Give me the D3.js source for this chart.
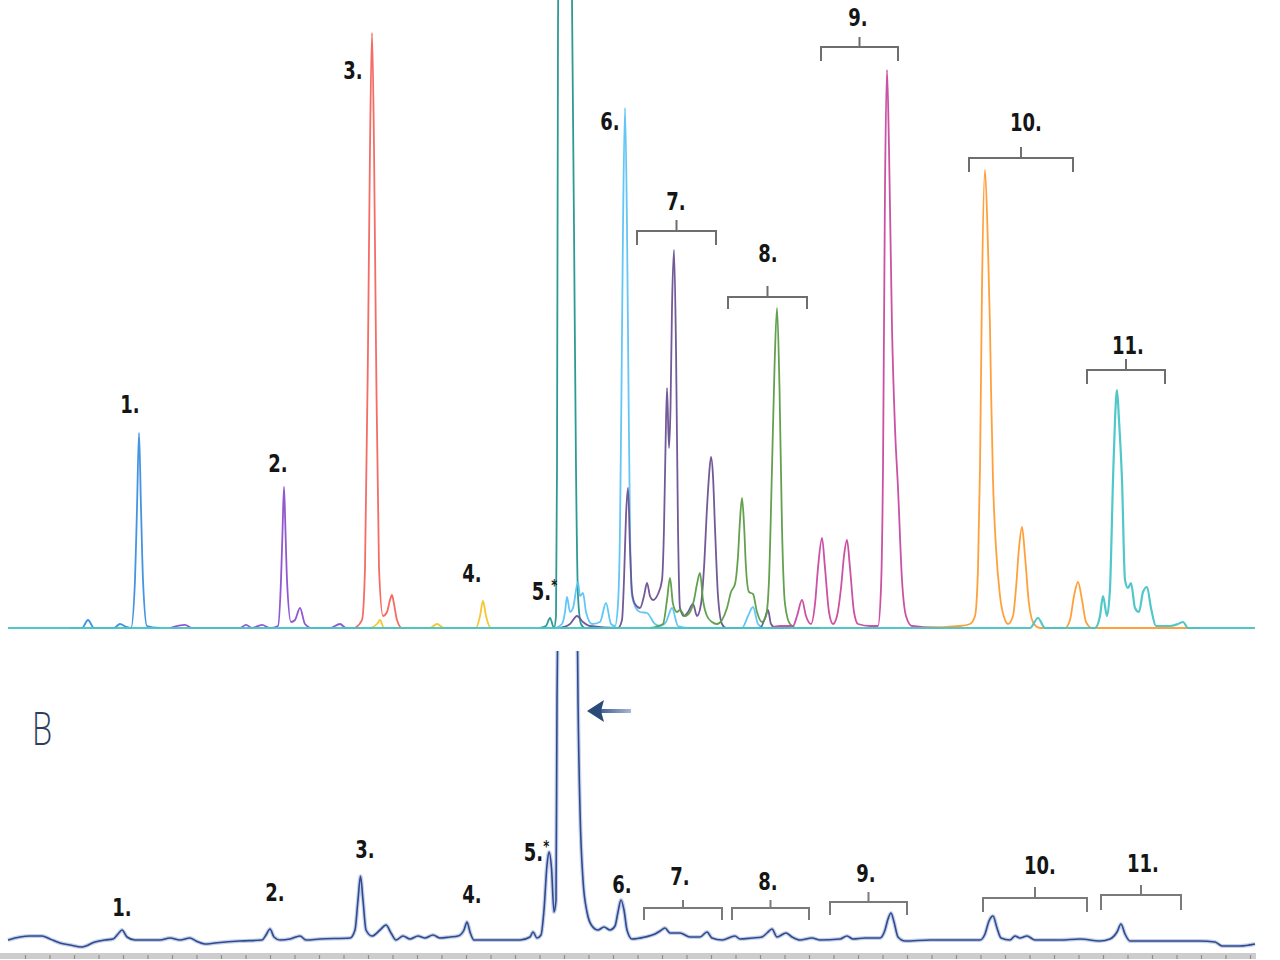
<!DOCTYPE html>
<html>
<head>
<meta charset="utf-8">
<script src="https://cdn.jsdelivr.net/npm/d3@7"></script>
<style>
html,body{margin:0;padding:0;background:#fff;}
svg{display:block;}
</style>
</head>
<body>
<svg id="chart" width="1280" height="960"></svg>
<script>
// ---------- DATA (time in min, intensity in arbitrary units) ----------
// Panel A: extracted ion chromatograms
const trace1 = [[1.40,0],[1.64,0],[1.76,2],[1.88,0],[2.28,0],[2.40,1],[2.52,0.3],[2.62,0],[2.70,12],[2.74,30],[2.78,48.75],[2.82,30],[2.86,12],[2.94,0.5],[3.20,0]];
const trace2 = [[3.40,0],[3.70,0.8],[3.84,0],[4.80,0],[4.92,0.8],[5.04,0],[5.24,0.8],[5.40,0],[5.56,0.5],[5.62,12],[5.65,24],[5.68,35.25],[5.71,24],[5.74,12],[5.82,1.5],[5.90,2],[6.00,5],[6.10,1],[6.24,0],[6.60,0],[6.80,1],[6.92,0],[7.20,0]];
const trace3 = [[7.10,0],[7.24,2],[7.30,15],[7.36,70],[7.40,120],[7.44,148.75],[7.48,120],[7.52,70],[7.58,15],[7.66,3],[7.74,4],[7.80,7],[7.84,8.25],[7.88,6],[7.94,2],[8.04,0],[8.30,0]];
const trace4 = [[7.40,0],[7.54,1],[7.60,2],[7.68,0],[8.60,0],[8.74,1],[8.88,0],[9.52,0],[9.60,3],[9.66,6.75],[9.72,3],[9.82,0],[10.40,0]];
const trace5 = [[10.80,0],[10.92,0.5],[11.00,2.5],[11.08,0],[11.12,3],[11.14,40],[11.16,150],[11.20,230],[11.30,260],[11.40,210],[11.44,157],[11.48,100],[11.52,40],[11.56,8],[11.62,1],[11.70,0],[12.40,0]];
const trace6 = [[11.10,0],[11.24,1],[11.30,4],[11.34,7.75],[11.40,4],[11.46,5],[11.56,11.5],[11.60,8],[11.66,8.75],[11.72,4],[11.84,1],[12.00,1.5],[12.12,6.25],[12.22,1],[12.30,0.5],[12.36,6],[12.40,25],[12.43,60],[12.46,100],[12.50,130],[12.54,100],[12.57,60],[12.60,25],[12.64,8],[12.72,5],[12.80,4],[12.94,3.75],[13.10,1],[13.20,0.5],[13.32,1.5],[13.44,5],[13.56,0.5],[13.80,0],[14.84,0],[14.96,3],[15.06,5.25],[15.16,1],[15.28,0],[15.80,0]];
const trace7 = [[11.20,0],[11.40,1],[11.54,3],[11.66,1.5],[11.80,0.5],[12.36,0],[12.44,2],[12.48,12],[12.52,28],[12.56,35],[12.60,20],[12.64,9],[12.70,6],[12.80,5],[12.88,8],[12.94,11.25],[13.00,8],[13.06,7],[13.16,8.5],[13.24,12],[13.28,25],[13.31,45],[13.34,60],[13.38,45],[13.41,55],[13.44,80],[13.48,94.5],[13.52,70],[13.56,25],[13.60,5],[13.68,3],[13.76,4],[13.86,6],[13.94,3],[14.02,6],[14.08,15],[14.14,30],[14.18,38],[14.22,42.75],[14.26,38],[14.30,25],[14.36,8],[14.44,1],[14.52,0],[15.20,0],[15.30,2.5],[15.36,4.5],[15.42,1],[15.52,0],[15.80,0]];
const trace8 = [[13.00,0],[13.26,1],[13.34,7],[13.40,12.5],[13.46,6],[13.54,4],[13.60,4.5],[13.70,3],[13.80,4],[13.88,7],[13.94,11],[14.00,13.75],[14.06,7],[14.14,3],[14.24,1.5],[14.34,1],[14.44,2],[14.54,5],[14.62,9],[14.70,11],[14.76,18],[14.80,27],[14.84,32.5],[14.88,26],[14.92,15],[14.98,9],[15.06,8.5],[15.14,4],[15.24,1.5],[15.32,3],[15.38,12],[15.44,40],[15.49,65],[15.54,80],[15.59,60],[15.64,25],[15.70,6],[15.80,1],[15.94,0],[16.40,0]];
const trace9 = [[15.40,0],[15.60,0.5],[15.86,0.5],[15.94,3],[16.04,7],[16.12,3],[16.22,1],[16.30,6],[16.36,15],[16.44,22.5],[16.50,15],[16.58,4],[16.66,1],[16.74,3],[16.82,10],[16.88,18],[16.94,22],[17.00,15],[17.08,4],[17.16,1],[17.40,0.5],[17.56,0.5],[17.62,10],[17.66,40],[17.70,110],[17.74,139.5],[17.78,120],[17.84,75],[17.90,50],[17.96,35],[18.04,12],[18.12,3],[18.24,0.5],[18.80,0]];
const trace10 = [[18.40,0],[19.20,0.5],[19.40,1],[19.50,3],[19.56,15],[19.60,40],[19.64,85],[19.70,114.5],[19.76,95],[19.80,75],[19.82,60],[19.86,37],[19.92,20],[20.00,8],[20.10,2],[20.16,1],[20.26,3],[20.32,10],[20.38,20],[20.44,25.25],[20.50,18],[20.58,6],[20.68,1],[20.80,0],[21.30,0],[21.40,2],[21.48,8],[21.56,11.5],[21.64,7],[21.72,1.5],[21.84,0],[24.00,0]];
const trace11 = [[0.16,0],[20.60,0],[20.76,2.5],[20.90,0],[21.90,0],[22.00,3],[22.06,8],[22.14,3],[22.20,10],[22.26,37],[22.30,52],[22.34,59.5],[22.38,52],[22.44,37],[22.50,12],[22.56,10],[22.62,11.25],[22.70,5],[22.78,4],[22.86,9],[22.94,10.25],[23.02,5],[23.12,0.5],[23.40,0.5],[23.56,1],[23.66,1.5],[23.76,0],[25.10,0]];

// Panel B: total ion chromatogram
const traceB = [[0.16,-0.5],[0.40,0.25],[0.60,0.5],[0.84,0.5],[1.00,-0.25],[1.20,-1.25],[1.40,-1.75],[1.64,-2.25],[1.90,-1],[2.10,-0.5],[2.26,-0.25],[2.36,1],[2.44,2],[2.54,0.25],[2.70,-0.5],[3.20,-0.5],[3.40,0],[3.60,-0.5],[3.80,0],[3.92,-0.75],[4.10,-1.5],[4.30,-1.25],[4.80,-0.75],[5.24,-0.5],[5.32,0.75],[5.40,2.25],[5.48,0.25],[5.60,-0.5],[5.80,-0.25],[6.00,0.5],[6.12,-0.5],[6.40,-0.25],[7.00,0],[7.10,2],[7.16,9.5],[7.21,15.5],[7.26,9.5],[7.32,2],[7.44,0.5],[7.60,2],[7.72,3.25],[7.82,1.25],[7.92,-0.5],[8.06,0.5],[8.20,-0.25],[8.36,0.5],[8.50,0],[8.66,0.75],[8.80,0],[9.00,0.25],[9.16,0.5],[9.28,2],[9.34,4],[9.40,1.5],[9.48,-0.5],[10.00,-0.5],[10.40,-0.5],[10.60,0.25],[10.66,1.5],[10.74,0],[10.82,0.75],[10.88,7],[10.94,18.25],[10.98,21.5],[11.03,17.5],[11.08,6.5],[11.12,9.5],[11.14,59.5],[11.16,84.5],[11.36,94.5],[11.54,84.5],[11.56,59.5],[11.60,32],[11.66,14.5],[11.74,6.5],[11.84,3],[11.96,2],[12.08,2.75],[12.20,2],[12.30,3],[12.36,6.5],[12.42,9.5],[12.48,7],[12.54,2],[12.64,-0.25],[12.90,0.25],[13.10,1],[13.20,1.75],[13.30,2.5],[13.40,1.25],[13.60,1.25],[13.80,0.25],[14.00,0.25],[14.14,1.5],[14.24,0],[14.44,-0.5],[14.70,0.5],[14.80,-0.25],[15.04,0],[15.24,0.25],[15.34,1.25],[15.44,2.25],[15.54,0.25],[15.72,1.25],[15.84,0.25],[16.00,-0.5],[16.24,0],[16.40,-0.5],[16.80,-0.25],[16.94,0.5],[17.06,-0.25],[17.30,0],[17.60,0],[17.70,2],[17.76,4.75],[17.82,6.25],[17.88,4],[17.96,0.25],[18.10,-0.75],[18.60,-0.5],[19.20,-0.5],[19.60,-0.5],[19.70,1],[19.78,4.25],[19.86,5.5],[19.94,2.5],[20.02,0],[20.20,-0.5],[20.30,0.5],[20.40,0],[20.54,0.5],[20.70,-0.5],[21.20,-0.5],[21.60,-0.25],[22.00,-0.75],[22.20,-0.25],[22.34,1.5],[22.42,3.5],[22.50,1],[22.60,-0.75],[23.00,-0.75],[23.60,-0.75],[24.00,-0.75],[24.30,-1],[24.44,-2],[24.80,-2],[25.10,-1.5]];

const tracesA = [trace1, trace2, trace3, trace4, trace5, trace6, trace7, trace8, trace9, trace10, trace11];
const colorsA = ["#3b8ee0","#8b4fd0","#f4645c","#f7c325","#23958f","#5bc3f5","#6a5192","#5b9c45","#c8489f","#ff9b30","#48c4c6"];

// Peak labels: [text, time, intensity]
const labelsA = [["1.",2.60,53.75],["2.",5.56,39],["3.",7.06,137.25],["4.",9.44,11.5],["5.",10.89,7],["6.",12.20,124.5],["7.",13.52,104.5],["8.",15.36,91.5],["9.",17.16,150.5],["10.",20.52,124.25],["11.",22.56,68.5]];
const labelsB = [["1.",2.44,5.5],["2.",5.50,9.25],["3.",7.30,20],["4.",9.44,8.75],["5.",10.73,19.25],["6.",12.44,11.25],["7.",13.60,13.25],["8.",15.36,12],["9.",17.32,14],["10.",20.80,16],["11.",22.86,16.5]];
// Brackets: [tStart, tEnd, barLevel, endLevel, tickLevel]
const bracketsA = [[12.74,14.32,99.25,95.75,102],[14.56,16.14,82.75,79.75,85.5],[16.42,17.96,145.25,141.75,147.75],[19.38,21.46,117.5,114,120.25],[21.74,23.30,64.5,61,67.25]];
const bracketsB = [[12.88,14.44,7.5,4.5,9.5],[14.64,16.18,7.5,4.5,9.5],[16.60,18.14,9,5.75,11.5],[19.66,21.74,10,6.5,12.75],[22.02,23.62,10.75,7,13.25]];

// ---------- SCALES ----------
const svg = d3.select("#chart");
const x = d3.scaleLinear().domain([0, 25.6]).range([0, 1280]);
const yA = d3.scaleLinear().domain([0, 157]).range([628, 0]);
const yB = d3.scaleLinear().domain([0, 72]).range([938, 650]);

const defs = svg.append("defs");
defs.append("clipPath").attr("id","clipB").append("rect").attr("x",0).attr("y",651).attr("width",1280).attr("height",309);

const lineA = d3.line().x(d => x(d[0])).y(d => yA(d[1])).curve(d3.curveMonotoneX);
const lineB = d3.line().x(d => x(d[0])).y(d => yB(d[1])).curve(d3.curveMonotoneX);

// ---------- PANEL A ----------
const gA = svg.append("g");
tracesA.forEach((tr, i) => {
  gA.append("path").attr("d", lineA(tr)).attr("fill","none")
    .attr("stroke", colorsA[i]).attr("stroke-width", i === 10 ? 2.2 : 1.8)
    .attr("stroke-linejoin","round").attr("opacity",0.95);
});

const labelFont = "'Liberation Sans Narrow','DejaVu Sans Condensed','Arial Narrow',sans-serif";

function drawLabels(g, labels, yS) {
  labels.forEach(l => {
    const t = g.append("text")
      .attr("transform", `translate(${x(l[1])},${yS(l[2])}) scale(0.8,1)`)
      .attr("text-anchor","middle").attr("font-family", labelFont)
      .attr("font-weight","bold").attr("font-size", 25).attr("fill","#151515");
    t.append("tspan").text(l[0]);
    if (l[0] === "5.") {
      t.append("tspan").attr("dy", -9).attr("font-size", 16).text("*");
    }
  });
}
function drawBrackets(g, brs, yS, col) {
  brs.forEach(b => {
    const x1 = x(b[0]), x2 = x(b[1]), yb = yS(b[2]), ye = yS(b[3]), yt = yS(b[4]);
    g.append("path").attr("d", `M${x1},${ye}L${x1},${yb}L${x2},${yb}L${x2},${ye}`)
      .attr("fill","none").attr("stroke",col).attr("stroke-width",2);
    const xm = (x1 + x2) / 2;
    g.append("line").attr("x1",xm).attr("x2",xm).attr("y1",yb).attr("y2",yt)
      .attr("stroke",col).attr("stroke-width",2);
  });
}
drawLabels(gA, labelsA, yA);
drawBrackets(gA, bracketsA, yA, "#6e6e6e");

// ---------- PANEL B ----------
const gB = svg.append("g");
// axis band
gB.append("line").attr("x1", x(0)).attr("x2", x(25.12)).attr("y1",956).attr("y2",956)
  .attr("stroke","#cdcdcd").attr("stroke-width",6);
const axB = d3.axisBottom(x).tickValues(d3.range(0.5, 25.1, 0.49)).tickFormat("").tickSize(4).tickSizeOuter(0);
const axG = gB.append("g").attr("transform","translate(0,955)").call(axB);
axG.select(".domain").remove();
axG.selectAll(".tick line").attr("stroke","#8e8e8e").attr("stroke-width",1.2);

const gBc = gB.append("g").attr("clip-path","url(#clipB)");
gBc.append("path").attr("d", lineB(traceB)).attr("fill","none")
  .attr("stroke","#aebde0").attr("stroke-width",4).attr("opacity",0.7).attr("stroke-linejoin","round");
gBc.append("path").attr("d", lineB(traceB)).attr("fill","none")
  .attr("stroke","#2f4a8f").attr("stroke-width",1.6).attr("stroke-linejoin","round");

drawLabels(gB, labelsB, yB);
drawBrackets(gB, bracketsB, yB, "#7a7a7a");

// panel letter
gB.append("text")
  .attr("transform", `translate(${x(0.64)},${yB(48.25)}) scale(0.7,1)`)
  .attr("font-family","'Open Sans',sans-serif").attr("font-weight",300)
  .attr("font-size",46).attr("fill","#2c3e5c")
  .text("B");

// arrow pointing at the large peak
const arrowTip = [11.74, 56.75], arrowTail = [12.62, 56.75];
const ax1 = x(arrowTip[0]), ax2 = x(arrowTail[0]), ay = yB(arrowTip[1]);
const grad = defs.append("linearGradient").attr("id","arrowGrad")
  .attr("gradientUnits","userSpaceOnUse").attr("x1", ax1 + 12).attr("x2", ax2).attr("y1", 0).attr("y2", 0);
grad.append("stop").attr("offset","0%").attr("stop-color","#3a5d8f");
grad.append("stop").attr("offset","100%").attr("stop-color","#a7b8d2");
gB.append("rect").attr("x", ax1 + 12).attr("y", ay - 2).attr("width", ax2 - ax1 - 12).attr("height", 4)
  .attr("fill","url(#arrowGrad)");
gB.append("path").attr("d", `M${ax1},${ay}L${ax1+17},${ay-11}L${ax1+14},${ay}L${ax1+17},${ay+11}Z`)
  .attr("fill","#2a4a7a");
</script>
</body>
</html>
